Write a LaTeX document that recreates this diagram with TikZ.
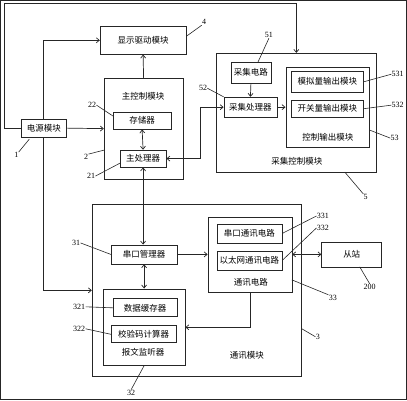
\documentclass[tikz,border=0pt]{standalone}
\usepackage{fontspec}
\setmainfont{Liberation Serif}
\newfontfamily\cjk{Noto Sans CJK SC}
\usetikzlibrary{arrows.meta}
\begin{document}
\begin{tikzpicture}[x=1pt,y=-1pt,
  every path/.style={line width=0.7pt,draw=black!85},
  box/.style={draw,rectangle,inner sep=0pt,font=\cjk\fontsize{8.5}{10}\selectfont},
  ttl/.style={inner sep=0pt,font=\cjk\fontsize{8.5}{10}\selectfont},
  num/.style={inner sep=0pt,font=\fontsize{8}{9}\selectfont},
  arr/.style={-{Straight Barb[length=3pt,width=5pt]}},
  arrb/.style={{Straight Barb[length=3pt,width=5pt]}-{Straight Barb[length=3pt,width=5pt]}},
  lead/.style={line width=0.6pt}]
\useasboundingbox (0,0) rectangle (407,400);
% boxes
\node[box,minimum width=45pt,minimum height=18pt] (power) at (43.5,128) {电源模块};
\node[box,minimum width=86pt,minimum height=28pt] (disp) at (143,40) {显示驱动模块};
\node[box,minimum width=79pt,minimum height=101pt] (main) at (143.5,128.5) {};
\node[ttl] (maint) at (143,96) {主控制模块};
\node[box,minimum width=58pt,minimum height=17pt] (mem) at (142,120.5) {存储器};
\node[box,minimum width=46pt,minimum height=17pt] (cpu) at (143,158.5) {主处理器};
\node[box,minimum width=161pt,minimum height=119pt] (acq) at (296.5,112.5) {};
\node[ttl] (acqt) at (297,161) {采集控制模块};
\node[box,minimum width=40pt,minimum height=21pt] (acqc) at (251,72.5) {采集电路};
\node[box,minimum width=53pt,minimum height=20pt] (acqp) at (250.5,107) {采集处理器};
\node[box,minimum width=84pt,minimum height=80pt] (ctrl) at (328,107) {};
\node[ttl] (ctrlt) at (328,137) {控制输出模块};
\node[box,minimum width=73pt,minimum height=21pt] (ana) at (327.5,81.5) {模拟量输出模块};
\node[box,minimum width=73pt,minimum height=17pt] (sw) at (327.5,108.5) {开关量输出模块};
\node[box,minimum width=210pt,minimum height=173pt] (comm) at (197,290.5) {};
\node[ttl] (commt) at (247,356) {通讯模块};
\node[box,minimum width=66pt,minimum height=19pt] (ser) at (144,254.5) {串口管理器};
\node[box,minimum width=82pt,minimum height=77pt] (lis) at (144,327.5) {};
\node[ttl] (list) at (143,353) {报文监听器};
\node[box,minimum width=64pt,minimum height=18pt] (buf) at (145,308) {数据缓存器};
\node[box,minimum width=65pt,minimum height=17pt] (chk) at (143.5,334.5) {校验码计算器};
\node[box,minimum width=84pt,minimum height=76pt] (cc) at (250,255) {};
\node[ttl] (cct) at (251,282) {通讯电路};
\node[box,minimum width=65pt,minimum height=19pt] (sc) at (249.5,233.5) {串口通讯电路};
\node[box,minimum width=65pt,minimum height=19pt] (eth) at (249.5,260.5) {以太网通讯电路};
\node[box,minimum width=60pt,minimum height=25pt] (slave) at (352,254.5) {从站};
% connectors
\coordinate (c1) at (4,3);
\draw[arr] (power.west) -| (c1) -| (acq.north);
\draw[arr] (power.north) |- (disp.west);
\draw[arr] (power.east) -- (main.west);
\draw[arr] (power.south) |- (comm.west);
\draw[arr] (main.north) -- (disp.south);
\draw[arrb] (mem.south) -- (cpu.north);
\draw[arrb] (cpu.east) -- ++(34,0) |- (acqp.west);
\draw[arr] (acqc.south) -- (acqp.north);
\draw[arr] (acqp.east) -- (ctrl.west);
\draw[arrb] (cpu.south) -- (cpu.south |- ser.north);
\draw[arr] (ser.east) -- (cc.west |- ser.east);
\draw[arrb] (ser.south) -- (ser.south |- lis.north);
\draw[arr] (cc.south) |- (lis.east);
\draw[arrb] (cc.east |- slave.west) -- (slave.west);
% labels
\node[num] (l1) at (16,155) {1};
\draw[lead] (l1.north east) -- (29,139);
\node[num] (l4) at (204,22) {4};
\draw[lead] (disp.east) ++(0,-4) -- (l4.south west);
\node[num] (l22) at (92,105) {22};
\draw[lead] (l22.east) -- (113,116);
\node[num] (l2) at (86,157) {2};
\draw[lead] (l2.north east) -- (104,150);
\node[num] (l21) at (91,176) {21};
\draw[lead] (l21.east) -- (120,163);
\node[num] (l51) at (269,35) {51};
\draw[lead] (l51.south) -- (258,62);
\node[num] (l52) at (203,88) {52};
\draw[lead] (l52.east) -- (acqp.north west);
\node[num] (l531) at (398,74) {531};
\draw[lead] (l531.west) -- (ana.east);
\node[num] (l532) at (398,105) {532};
\draw[lead] (l532.west) -- (sw.east);
\node[num] (l53) at (395,138) {53};
\draw[lead] (l53.west) -- (370,130);
\node[num] (l5) at (366,197) {5};
\draw[lead] (l5.north west) -- (345,172);
\node[num] (l31) at (76,243) {31};
\draw[lead] (l31.east) -- (ser.west);
\node[num] (l321) at (79,307) {321};
\draw[lead] (l321.east) -- (buf.west);
\node[num] (l322) at (79,329) {322};
\draw[lead] (l322.east) -- (chk.west);
\node[num] (l32) at (131,393) {32};
\draw[lead] (l32.north) -- (144,366);
\node[num] (l331) at (323,216) {331};
\draw[lead] (l331.west) -- (sc.east);
\node[num] (l332) at (323,228) {332};
\draw[lead] (l332.west) -- (eth.east);
\node[num] (l33) at (333,298) {33};
\draw[lead] (l33.north west) -- (292,280);
\node[num] (l3) at (318,337) {3};
\draw[lead] (l3.west) -- (302,329);
\node[num] (l200) at (370,287) {200};
\draw[lead] (l200.north) -- (360,267);
\end{tikzpicture}
\end{document}
